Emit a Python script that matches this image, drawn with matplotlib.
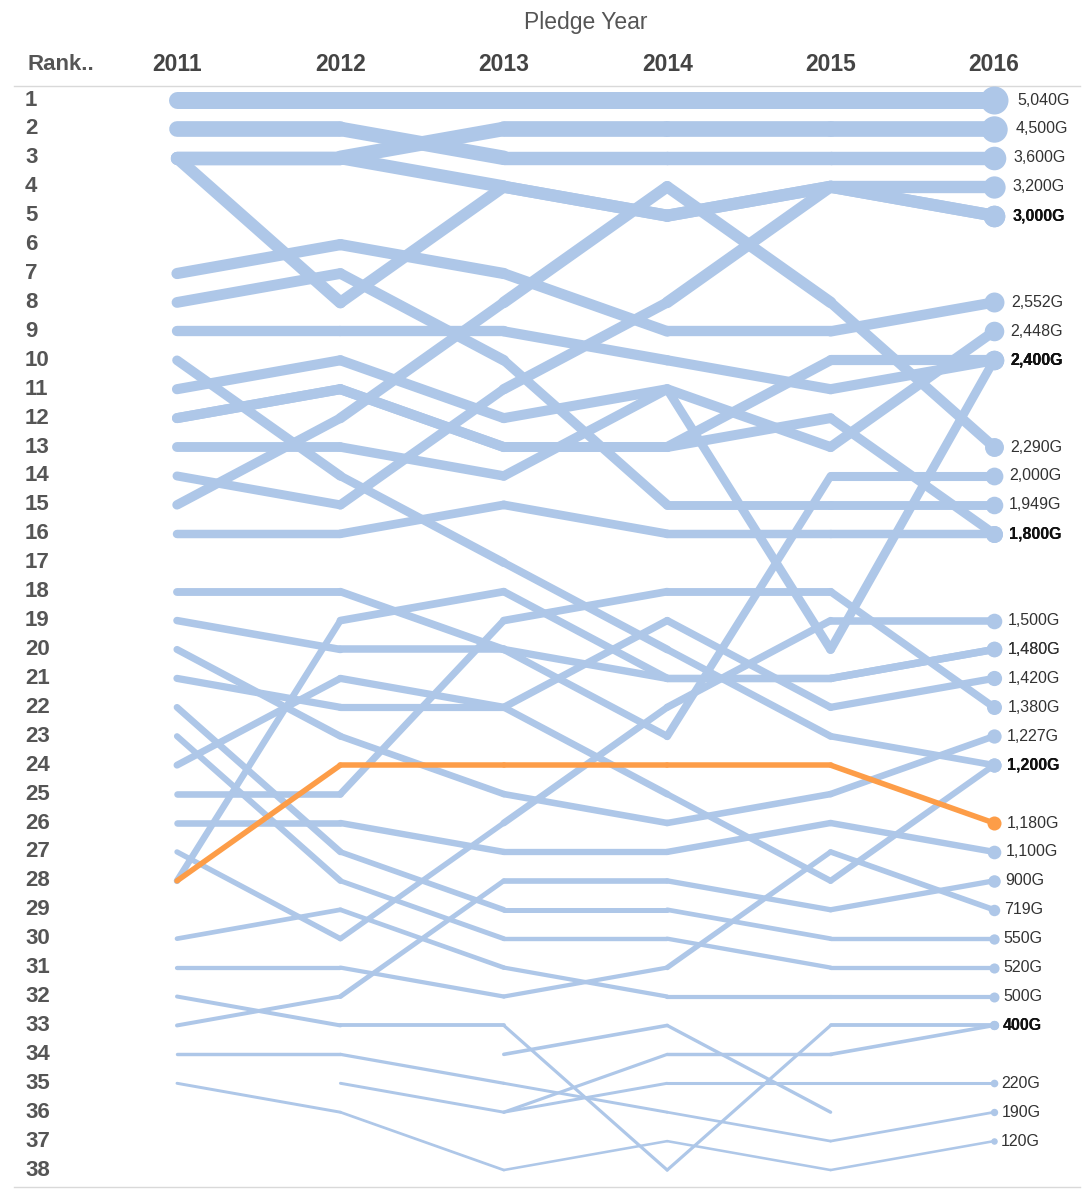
import matplotlib.pyplot as plt
import numpy as np

years = [2011, 2012, 2013, 2014, 2015, 2016]

# rank of each pledge per year (None = not ranked that year)
ranks = [
    [1, 1, 1, 1, 1, 1],
    [3, 3, 2, 2, 2, 2],
    [2, 2, 3, 3, 3, 3],
    [3, 8, 4, 5, 4, 4],
    [3, 3, 4, 5, 4, 5],
    [14, 15, 11, 8, 4, 5],
    [7, 6, 7, 9, 9, 8],
    [15, 12, 8, 4, 8, 13],
    [9, 9, 9, 10, 11, 10],
    [12, 11, 13, 13, 10, 10],
    [13, 13, 14, 11, 20, 10],
    [11, 10, 12, 11, 13, 9],
    [12, 11, 13, 13, 12, 16],
    [8, 7, 10, 15, 15, 15],
    [16, 16, 15, 16, 16, 16],
    [10, 14, 17, 20, 23, 24],
    [28, 19, 18, 21, 21, 20],
    [25, 25, 19, 18, 18, 22],
    [18, 18, 20, 23, 14, 14],
    [19, 20, 20, 21, 21, 20],
    [24, 21, 22, 19, 22, 21],
    [21, 22, 22, 25, 28, 24],
    [20, 23, 25, 26, 25, 23],
    [27, 30, 26, 22, 19, 19],
    [28, 24, 24, 24, 24, 26],
    [26, 26, 27, 27, 26, 27],
    [22, 27, 29, 29, 30, 30],
    [23, 28, 30, 30, 31, 31],
    [30, 29, 31, 32, 32, 32],
    [31, 31, 32, 31, 27, 29],
    [33, 32, 28, 28, 29, 28],
    [32, 33, 33, 38, 33, 33],
    [None, None, 36, 34, 34, 33],
    [34, 34, 35, 36, 37, 36],
    [None, 35, 36, 35, 35, 35],
    [35, 36, 38, 37, 38, 37],
    [None, None, 34, 33, 36, None],
]
end_labels = [
    "5,040G", "4,500G", "3,600G", "3,200G", "3,000G", "3,000G", "2,552G",
    "2,290G", "2,400G", "2,400G", "2,400G", "2,448G", "1,800G", "1,949G",
    "1,800G", "1,200G", "1,480G", "1,380G", "2,000G", "1,480G", "1,420G",
    "1,200G", "1,227G", "1,500G", "1,180G", "1,100G", "550G", "520G",
    "500G", "719G", "900G", "400G", "400G", "190G", "220G", "120G", "",
]
amounts = [
    5040, 4500, 3600, 3200, 3000, 3000, 2552, 2290, 2400, 2400, 2400, 2448,
    1800, 1949, 1800, 1200, 1480, 1380, 2000, 1480, 1420, 1200, 1227, 1500,
    1180, 1100, 550, 520, 500, 719, 900, 400, 400, 190, 220, 120, 100,
]
highlight = 24
bold_labels = ["3,000G", "2,400G", "1,800G", "1,200G", "400G"]

blue = "#aec7e8"
orange = "#fd9d48"

W, H = 1085, 1189
x0, dx = 177, 163.4
y0, dy = 100, 28.92

fig = plt.figure(figsize=(W / 100, H / 100), dpi=100)
ax = fig.add_axes([0, 0, 1, 1])
ax.set_xlim(2011 - x0 / dx, 2011 + (W - x0) / dx)
ax.set_ylim(1 + (H - y0) / dy, 1 - y0 / dy)
ax.axis("off")


def px_x(p):
    return 2011 + (p - x0) / dx


def px_y(p):
    return 1 + (p - y0) / dy


# amount that goes with a rank
end_r = [r[-1] for r in ranks if r[-1] is not None]
end_v = [v for r, v in zip(ranks, amounts) if r[-1] is not None]
srt = np.argsort(end_r)
rk_axis = np.array(end_r)[srt]
v_axis = np.array(end_v)[srt]


def width_at(rank):
    v = np.interp(rank, rk_axis, v_axis)
    return (1.8 + 15.2 * (v / 5040) ** 0.8) * 0.72


order = list(range(len(ranks)))
order.remove(highlight)
order.append(highlight)

for i in order:
    r = ranks[i]
    v = amounts[i]
    color = orange if i == highlight else blue
    z = 3 if i == highlight else 2
    for k in range(len(years) - 1):
        if r[k] is None or r[k + 1] is None:
            continue
        if i == highlight:
            lw = 5.5 * 0.72
        else:
            lw = (width_at(r[k]) + width_at(r[k + 1])) / 2
        ax.plot(years[k:k + 2], r[k:k + 2], color=color, lw=lw,
                solid_capstyle="round", zorder=z)
    if r[-1] is not None:
        d = 4 + 24 * (v / 5040) ** 0.6
        ax.plot([2016], [r[-1]], "o", color=color, ms=d * 0.72, mew=0,
                zorder=4)
        lab = end_labels[i]
        if lab:
            ax.text(2016 + (0.75 * d + 2) / dx, r[-1], lab,
                    fontsize=11.5, family="Liberation Sans",
                    fontweight="bold" if lab in bold_labels else "normal",
                    color="#111" if lab in bold_labels else "#333",
                    ha="left", va="center", zorder=5)

# header
ax.text(px_x(586), px_y(22), "Pledge Year", fontsize=16.5, color="#555",
        family="Liberation Sans", ha="center", va="center")
ax.text(px_x(27), px_y(64), "Rank..", fontsize=16, color="#555",
        family="Liberation Sans", fontweight="bold", ha="left", va="center")
for yr in years:
    ax.text(yr, px_y(64), str(yr), fontsize=16.5, color="#444",
            family="Liberation Sans", fontweight="bold", ha="center",
            va="center")
for rk in range(1, 39):
    ax.text(px_x(25), rk, str(rk), fontsize=16, color="#555",
            family="Liberation Sans", fontweight="bold", ha="left",
            va="center")

ax.plot([px_x(14), px_x(1080)], [px_y(86), px_y(86)], color="#d9d9d9", lw=1)
ax.plot([px_x(14), px_x(1080)], [px_y(1187), px_y(1187)], color="#d9d9d9",
        lw=1)

fig.savefig("out.png", dpi=100)
